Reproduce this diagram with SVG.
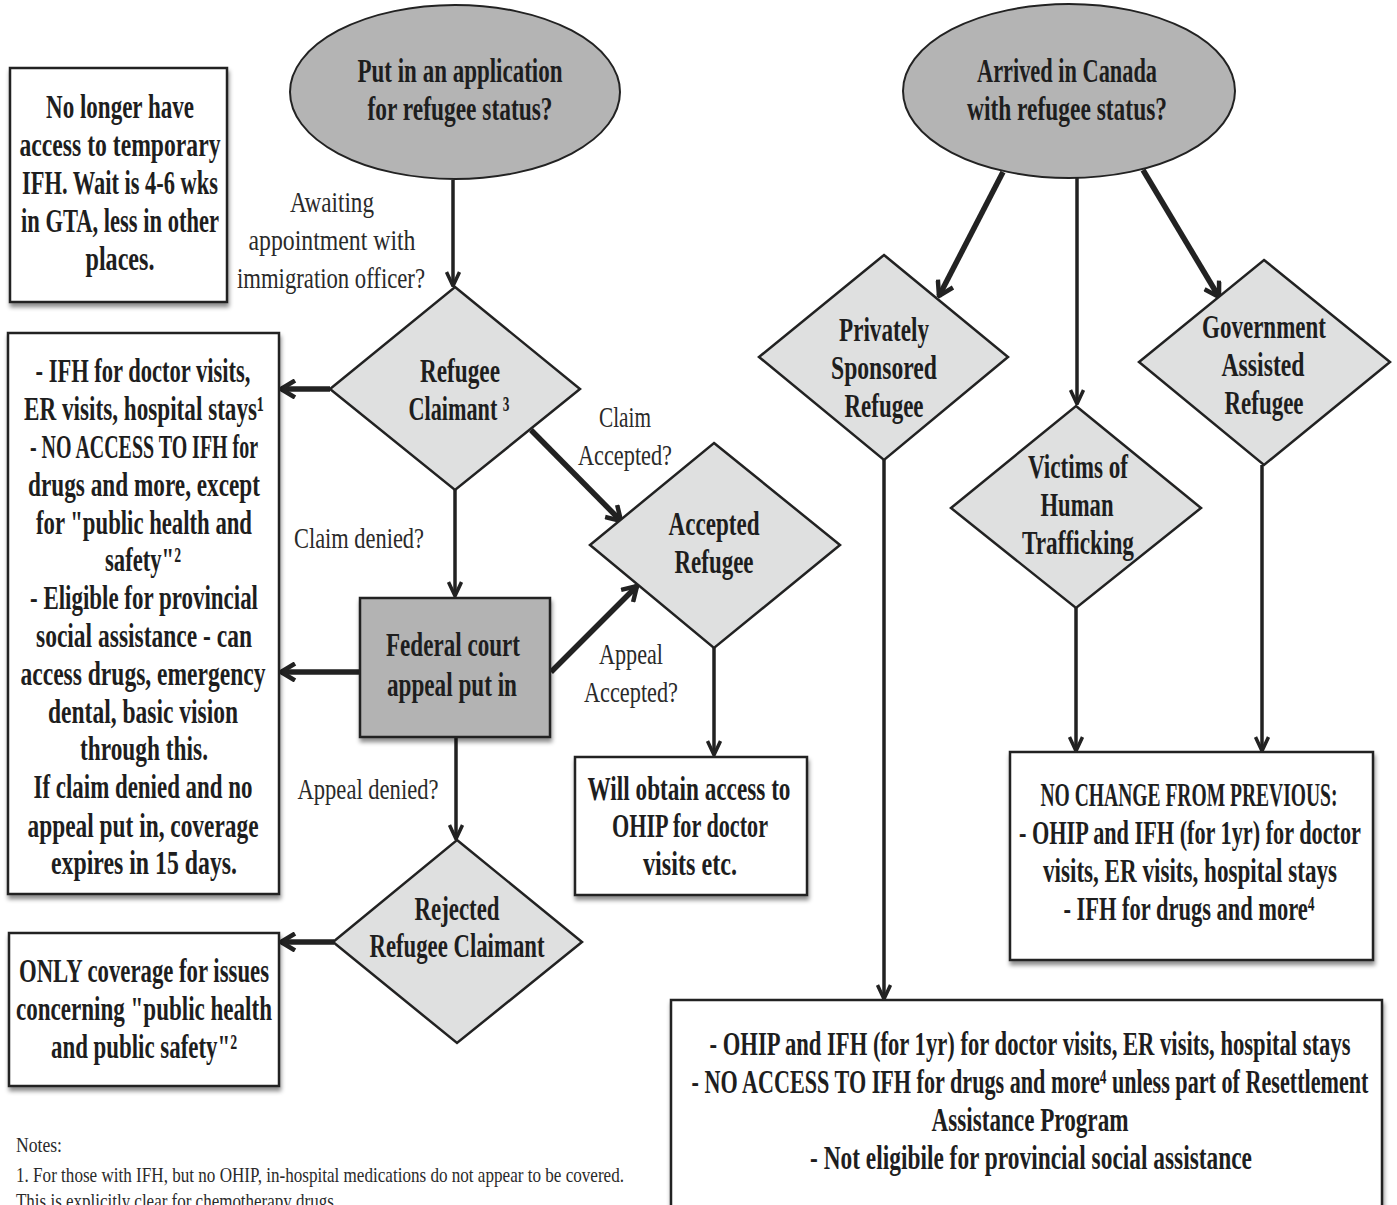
<svg xmlns="http://www.w3.org/2000/svg" width="1397" height="1205" viewBox="0 0 1397 1205">
<style>
.b{font-family:"Liberation Serif",serif;font-weight:bold;font-size:33px;text-anchor:middle;fill:#1e1e1e}
.r{font-family:"Liberation Serif",serif;font-weight:normal;font-size:30px;text-anchor:middle;fill:#2a2a2a}
.n{font-family:"Liberation Serif",serif;font-weight:normal;font-size:21px;fill:#2a2a2a}
.box{fill:#fff;stroke:#222;stroke-width:2.5;filter:url(#sh)}
.dk{fill:#b3b3b3;stroke:#222;stroke-width:2.5;filter:url(#sh)}
.el{fill:#b4b4b4;stroke:#222;stroke-width:2}
.dm{fill:#dfe0e0;stroke:#222;stroke-width:2.5}
.c{fill:none;stroke:#222;stroke-width:3.5}
.t{fill:none;stroke:#222;stroke-width:5.5}
</style>
<defs>
<filter id="sh" x="-10%" y="-10%" width="120%" height="120%">
<feDropShadow dx="1" dy="4" stdDeviation="2" flood-color="#000" flood-opacity="0.45"/>
</filter>
<marker id="a" markerUnits="userSpaceOnUse" viewBox="0 0 16 16" refX="15" refY="8" markerWidth="16" markerHeight="16" orient="auto">
<path d="M1,1.5 L15,8 L1,14.5" fill="none" stroke="#222" stroke-width="3.5"/>
</marker>
<marker id="at" markerUnits="userSpaceOnUse" viewBox="0 0 18 20" refX="16" refY="10" markerWidth="18" markerHeight="20" orient="auto">
<path d="M2,1.5 L16,10 L2,18.5" fill="none" stroke="#222" stroke-width="4.5"/>
</marker>
</defs>
<rect width="1397" height="1205" fill="#fff"/>

<g id="connectors">
<line class="c" x1="453" y1="180" x2="453" y2="286" marker-end="url(#a)"/>
<line class="t" x1="330" y1="389" x2="281" y2="389" marker-end="url(#at)"/>
<line class="t" x1="531" y1="430" x2="621" y2="521" marker-end="url(#at)"/>
<line class="c" x1="455" y1="490" x2="455" y2="596" marker-end="url(#a)"/>
<line class="t" x1="551" y1="672" x2="637" y2="586" marker-end="url(#at)"/>
<line class="t" x1="360" y1="672" x2="281" y2="672" marker-end="url(#at)"/>
<line class="c" x1="456" y1="737" x2="456" y2="839" marker-end="url(#a)"/>
<line class="t" x1="334" y1="942" x2="281" y2="942" marker-end="url(#at)"/>
<line class="c" x1="714" y1="648" x2="714" y2="755" marker-end="url(#a)"/>
<line class="t" x1="1003" y1="172" x2="939" y2="296" marker-end="url(#at)"/>
<line class="c" x1="1077" y1="175" x2="1077" y2="404" marker-end="url(#a)"/>
<line class="t" x1="1143" y1="170" x2="1219" y2="297" marker-end="url(#at)"/>
<line class="c" x1="884" y1="460" x2="884" y2="999" marker-end="url(#a)"/>
<line class="c" x1="1076" y1="608" x2="1076" y2="751" marker-end="url(#a)"/>
<line class="c" x1="1262" y1="465" x2="1262" y2="751" marker-end="url(#a)"/>
</g>

<g id="labels">
<text class="r" x="332" y="212" textLength="84" lengthAdjust="spacingAndGlyphs">Awaiting</text>
<text class="r" x="332" y="250" textLength="167" lengthAdjust="spacingAndGlyphs">appointment with</text>
<text class="r" x="331" y="288" textLength="188" lengthAdjust="spacingAndGlyphs">immigration officer?</text>
<text class="r" x="625" y="427" textLength="52" lengthAdjust="spacingAndGlyphs">Claim</text>
<text class="r" x="625" y="465" textLength="94" lengthAdjust="spacingAndGlyphs">Accepted?</text>
<text class="r" x="359" y="548" textLength="130" lengthAdjust="spacingAndGlyphs">Claim denied?</text>
<text class="r" x="631" y="664" textLength="64" lengthAdjust="spacingAndGlyphs">Appeal</text>
<text class="r" x="631" y="702" textLength="94" lengthAdjust="spacingAndGlyphs">Accepted?</text>
<text class="r" x="368" y="799" textLength="141" lengthAdjust="spacingAndGlyphs">Appeal denied?</text>
</g>

<g id="n-apply">
<ellipse class="el" cx="455" cy="92" rx="165" ry="87"/>
<text class="b" x="460" y="82" textLength="205" lengthAdjust="spacingAndGlyphs">Put in an application</text>
<text class="b" x="460" y="120" textLength="185" lengthAdjust="spacingAndGlyphs">for refugee status?</text>
</g>

<g id="n-arrived">
<ellipse class="el" cx="1069" cy="91" rx="166" ry="87"/>
<text class="b" x="1067" y="82" textLength="180" lengthAdjust="spacingAndGlyphs">Arrived in Canada</text>
<text class="b" x="1067" y="120" textLength="200" lengthAdjust="spacingAndGlyphs">with refugee status?</text>
</g>

<g id="n-nolonger">
<rect class="box" x="10" y="68" width="217" height="234"/>
<text class="b" x="120" y="118" textLength="148" lengthAdjust="spacingAndGlyphs">No longer have</text>
<text class="b" x="120" y="156" textLength="201" lengthAdjust="spacingAndGlyphs">access to temporary</text>
<text class="b" x="120" y="194" textLength="196" lengthAdjust="spacingAndGlyphs">IFH. Wait is 4-6 wks</text>
<text class="b" x="120" y="232" textLength="198" lengthAdjust="spacingAndGlyphs">in GTA, less in other</text>
<text class="b" x="120" y="270" textLength="69" lengthAdjust="spacingAndGlyphs">places.</text>
</g>

<g id="n-claimant">
<polygon class="dm" points="455,287 580,389 455,490 330,389"/>
<text class="b" x="460" y="382" textLength="80" lengthAdjust="spacingAndGlyphs">Refugee</text>
<text class="b" x="459" y="420" textLength="101" lengthAdjust="spacingAndGlyphs">Claimant ³</text>
</g>

<g id="n-claimantinfo">
<rect class="box" x="8" y="333" width="271" height="561"/>
<text class="b" x="143" y="382" textLength="215" lengthAdjust="spacingAndGlyphs">- IFH for doctor visits,</text>
<text class="b" x="144" y="420" textLength="240" lengthAdjust="spacingAndGlyphs">ER visits, hospital stays¹</text>
<text class="b" x="144" y="458" textLength="228" lengthAdjust="spacingAndGlyphs">- NO ACCESS TO IFH for</text>
<text class="b" x="144" y="496" textLength="232" lengthAdjust="spacingAndGlyphs">drugs and more, except</text>
<text class="b" x="144" y="534" textLength="216" lengthAdjust="spacingAndGlyphs">for "public health and</text>
<text class="b" x="143" y="571" textLength="76" lengthAdjust="spacingAndGlyphs">safety"²</text>
<text class="b" x="144" y="609" textLength="228" lengthAdjust="spacingAndGlyphs">- Eligible for provincial</text>
<text class="b" x="144" y="647" textLength="216" lengthAdjust="spacingAndGlyphs">social assistance - can</text>
<text class="b" x="143" y="685" textLength="245" lengthAdjust="spacingAndGlyphs">access drugs, emergency</text>
<text class="b" x="143" y="723" textLength="190" lengthAdjust="spacingAndGlyphs">dental, basic vision</text>
<text class="b" x="144" y="760" textLength="128" lengthAdjust="spacingAndGlyphs">through this.</text>
<text class="b" x="143" y="798" textLength="219" lengthAdjust="spacingAndGlyphs">If claim denied and no</text>
<text class="b" x="143" y="837" textLength="231" lengthAdjust="spacingAndGlyphs">appeal put in, coverage</text>
<text class="b" x="144" y="874" textLength="186" lengthAdjust="spacingAndGlyphs">expires in 15 days.</text>
</g>

<g id="n-accepted">
<polygon class="dm" points="714,443 840,545 714,648 590,545"/>
<text class="b" x="714" y="535" textLength="91" lengthAdjust="spacingAndGlyphs">Accepted</text>
<text class="b" x="714" y="573" textLength="79" lengthAdjust="spacingAndGlyphs">Refugee</text>
</g>

<g id="n-federal">
<rect class="dk" x="360" y="598" width="190" height="139"/>
<text class="b" x="453" y="656" textLength="134" lengthAdjust="spacingAndGlyphs">Federal court</text>
<text class="b" x="452" y="696" textLength="130" lengthAdjust="spacingAndGlyphs">appeal put in</text>
</g>

<g id="n-rejected">
<polygon class="dm" points="457,840 582,942 457,1043 333,942"/>
<text class="b" x="457" y="920" textLength="85" lengthAdjust="spacingAndGlyphs">Rejected</text>
<text class="b" x="457" y="957" textLength="175" lengthAdjust="spacingAndGlyphs">Refugee Claimant</text>
</g>

<g id="n-only">
<rect class="box" x="9" y="933" width="270" height="153"/>
<text class="b" x="144" y="982" textLength="250" lengthAdjust="spacingAndGlyphs">ONLY coverage for issues</text>
<text class="b" x="144" y="1020" textLength="256" lengthAdjust="spacingAndGlyphs">concerning "public health</text>
<text class="b" x="144" y="1058" textLength="186" lengthAdjust="spacingAndGlyphs">and public safety"²</text>
</g>

<g id="n-ohip">
<rect class="box" x="575" y="757" width="232" height="138"/>
<text class="b" x="689" y="800" textLength="203" lengthAdjust="spacingAndGlyphs">Will obtain access to</text>
<text class="b" x="690" y="837" textLength="156" lengthAdjust="spacingAndGlyphs">OHIP for doctor</text>
<text class="b" x="690" y="875" textLength="94" lengthAdjust="spacingAndGlyphs">visits etc.</text>
</g>

<g id="n-private">
<polygon class="dm" points="884,255 1008,357 884,460 759,357"/>
<text class="b" x="884" y="341" textLength="90" lengthAdjust="spacingAndGlyphs">Privately</text>
<text class="b" x="884" y="379" textLength="106" lengthAdjust="spacingAndGlyphs">Sponsored</text>
<text class="b" x="884" y="417" textLength="79" lengthAdjust="spacingAndGlyphs">Refugee</text>
</g>

<g id="n-victims">
<polygon class="dm" points="1076,406 1201,508 1076,608 951,508"/>
<text class="b" x="1078" y="478" textLength="100" lengthAdjust="spacingAndGlyphs">Victims of</text>
<text class="b" x="1077" y="516" textLength="73" lengthAdjust="spacingAndGlyphs">Human</text>
<text class="b" x="1078" y="554" textLength="112" lengthAdjust="spacingAndGlyphs">Trafficking</text>
</g>

<g id="n-government">
<polygon class="dm" points="1264,260 1390,362 1264,465 1139,362"/>
<text class="b" x="1264" y="338" textLength="124" lengthAdjust="spacingAndGlyphs">Government</text>
<text class="b" x="1263" y="376" textLength="83" lengthAdjust="spacingAndGlyphs">Assisted</text>
<text class="b" x="1264" y="414" textLength="79" lengthAdjust="spacingAndGlyphs">Refugee</text>
</g>

<g id="n-nochange">
<rect class="box" x="1010" y="752" width="363" height="208"/>
<text class="b" x="1189" y="806" textLength="297" lengthAdjust="spacingAndGlyphs">NO CHANGE FROM PREVIOUS:</text>
<text class="b" x="1190" y="844" textLength="342" lengthAdjust="spacingAndGlyphs">- OHIP and IFH (for 1yr) for doctor</text>
<text class="b" x="1190" y="882" textLength="294" lengthAdjust="spacingAndGlyphs">visits, ER visits, hospital stays</text>
<text class="b" x="1189" y="920" textLength="251" lengthAdjust="spacingAndGlyphs">- IFH for drugs and more⁴</text>
</g>

<g id="n-private-info">
<rect class="box" x="671" y="1000" width="711" height="215"/>
<text class="b" x="1030" y="1055" textLength="641" lengthAdjust="spacingAndGlyphs">- OHIP and IFH (for 1yr) for doctor visits, ER visits, hospital stays</text>
<text class="b" x="1030" y="1093" textLength="677" lengthAdjust="spacingAndGlyphs">- NO ACCESS TO IFH for drugs and more⁴ unless part of Resettlement</text>
<text class="b" x="1030" y="1131" textLength="197" lengthAdjust="spacingAndGlyphs">Assistance Program</text>
<text class="b" x="1031" y="1169" textLength="442" lengthAdjust="spacingAndGlyphs">- Not eligibile for provincial social assistance</text>
</g>

<g id="notes">
<text class="n" x="16" y="1152" textLength="46" lengthAdjust="spacingAndGlyphs">Notes:</text>
<text class="n" x="16" y="1182" textLength="608" lengthAdjust="spacingAndGlyphs">1. For those with IFH, but no OHIP, in-hospital medications do not appear to be covered.</text>
<text class="n" x="16" y="1208" textLength="322" lengthAdjust="spacingAndGlyphs">This is explicitly clear for chemotherapy drugs.</text>
</g>
</svg>
